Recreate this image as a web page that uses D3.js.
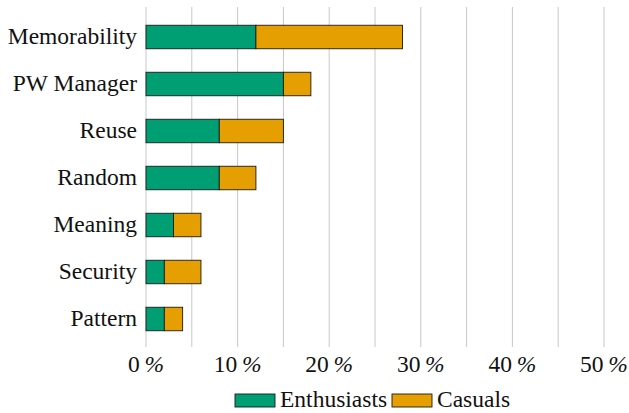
<!DOCTYPE html>
<html>
<head>
<meta charset="utf-8">
<script src="https://cdn.jsdelivr.net/npm/d3@7"></script>
<style>
  html, body { margin: 0; padding: 0; background: #fff; }
  svg { display: block; }
  svg text { font-family: 'Liberation Serif', 'Times New Roman', Times, Tinos, FreeSerif, serif; }
</style>
</head>
<body>
<svg id="chart" width="629" height="413"></svg>
<script>
const categories = ["Memorability", "PW Manager", "Reuse", "Random", "Meaning", "Security", "Pattern"];
const seriesNames = ["Enthusiasts", "Casuals"];
const enthusiasts = [12, 15, 8, 8, 3, 2, 2];
const casuals = [16, 3, 7, 4, 3, 4, 2];
const tickValues = [0, 10, 20, 30, 40, 50];
const gridValues = [0, 5, 10, 15, 20, 25, 30, 35, 40, 45, 50];
const colors = ["#009E73", "#E69F00"];

const FS = 23.5;
const svg = d3.select("#chart");
const x = d3.scaleLinear().domain([0, 50]).range([146, 604]);
const y = d3.scaleBand().domain(categories).range([8, 348]).paddingInner(0.5).paddingOuter(0.367);

const table = categories.map((c, i) => ({ cat: c, Enthusiasts: enthusiasts[i], Casuals: casuals[i] }));
const stacked = d3.stack().keys(seriesNames)(table);

// grid
svg.append("g").selectAll("line").data(gridValues).join("line")
  .attr("x1", d => x(d)).attr("x2", d => x(d))
  .attr("y1", 7).attr("y2", 347)
  .attr("stroke", "#c8c8c8").attr("stroke-width", 1);

// bars
svg.append("g").selectAll("g").data(stacked).join("g")
  .attr("fill", (d, i) => colors[i])
  .selectAll("rect").data(d => d).join("rect")
  .attr("x", d => x(d[0]))
  .attr("y", d => y(d.data.cat))
  .attr("width", d => x(d[1]) - x(d[0]))
  .attr("height", y.bandwidth())
  .attr("stroke", "#1a1a1a").attr("stroke-width", 0.9);

// category labels
svg.append("g").selectAll("text").data(categories).join("text")
  .attr("x", 137)
  .attr("y", d => y(d) + y.bandwidth() / 2)
  .attr("dy", "0.3em")
  .attr("text-anchor", "end")
  .style("font-size", FS + "px")
  .attr("fill", "#111")
  .text(d => d);

// x tick labels
const tl = svg.append("g").selectAll("text").data(tickValues).join("text")
  .attr("x", d => x(d))
  .attr("y", 372)
  .attr("text-anchor", "middle")
  .style("font-size", FS + "px")
  .attr("fill", "#111");
tl.append("tspan").text(d => d + "\u2009");
tl.append("tspan").style("font-style", "italic").text("%");

// legend
const legend = svg.append("g");
const legendItems = [
  { name: seriesNames[0], color: colors[0], x: 235, tx: 280 },
  { name: seriesNames[1], color: colors[1], x: 392, tx: 437 }
];
legend.selectAll("rect").data(legendItems).join("rect")
  .attr("x", d => d.x).attr("y", 394)
  .attr("width", 40).attr("height", 13)
  .attr("fill", d => d.color)
  .attr("stroke", "#1a1a1a").attr("stroke-width", 0.9);
legend.selectAll("text").data(legendItems).join("text")
  .attr("x", d => d.tx).attr("y", 407)
  .style("font-size", FS + "px")
  .attr("fill", "#111")
  .text(d => d.name);
</script>
</body>
</html>
